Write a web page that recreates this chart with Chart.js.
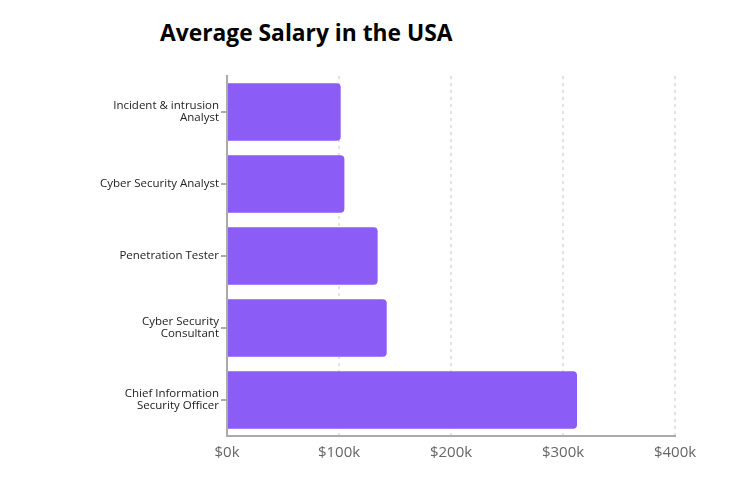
<!DOCTYPE html>
<html>
<head>
<meta charset="utf-8">
<script src="https://cdn.jsdelivr.net/npm/chart.js@4.4.0/dist/chart.umd.min.js"></script>
<style>
  body { margin: 0; background: #fff; }
  .wrap { position: relative; width: 751px; height: 494px; }
  .title {
    position: absolute; left: 160px; top: 17px;
    font-family: "Open Sans", "Noto Sans", sans-serif;
    font-weight: bold; font-size: 22.8px; color: #000; margin: 0;
  }
  canvas { position: absolute; left: 0; top: 0; }
</style>
</head>
<body>
<div class="wrap">
  <h1 class="title">Average Salary in the USA</h1>
  <canvas id="salary-chart" width="751" height="494"></canvas>
</div>
<script>
// job titles (multi-line labels as arrays)
var jobs = [
    ["Incident & intrusion", "Analyst"],
    "Cyber Security Analyst",
    "Penetration Tester",
    ["Cyber Security", "Consultant"],
    ["Chief Information", "Security Officer"]
]
// average salary in dollars
var salaries = [101500, 104800, 134500, 142600, 312500]
var x_ticks = [0, 100000, 200000, 300000, 400000]

var bar_color = "#8b5cf6"
var font_family = "'Open Sans', 'Noto Sans', sans-serif"

var ctx = document.getElementById("salary-chart")
var chart = new Chart(ctx, {
    type: "bar",
    data: {
        labels: jobs,
        datasets: [{
            data: salaries,
            backgroundColor: bar_color,
            borderRadius: 4,
            borderSkipped: "start",
            categoryPercentage: 0.8,
            barPercentage: 1.0
        }]
    },
    options: {
        indexAxis: "y",
        responsive: false,
        animation: false,
        layout: { padding: { top: 76, right: 76, bottom: 0, left: 0 } },
        plugins: {
            legend: { display: false },
            tooltip: { enabled: false },
            title: { display: false }
        },
        scales: {
            x: {
                min: 0,
                max: 400000,
                afterBuildTicks(scale) {
                    scale.ticks = x_ticks.map(v => ({ value: v }))
                },
                afterFit(scale) { scale.height = 58 },
                // dash here applies to the vertical grid lines
                border: { display: true, color: "#aaa", width: 2, dash: [3, 4] },
                grid: {
                    color: "#e2e2e2",
                    lineWidth: 2,
                    drawTicks: false
                },
                ticks: {
                    color: "#666",
                    padding: 8,
                    font: { family: font_family, size: 15 },
                    callback: v => "$" + (v / 1000) + "k"
                }
            },
            y: {
                afterFit(scale) { scale.width = 227 },
                border: { display: true, color: "#aaa", width: 2 },
                grid: {
                    offset: false,
                    drawOnChartArea: false,
                    tickColor: "#aaa",
                    tickLength: 6,
                    lineWidth: 2
                },
                ticks: {
                    color: "#222",
                    padding: 2,
                    font: { family: font_family, size: 11.5, lineHeight: 1.05 }
                }
            }
        }
    }
})
</script>
</body>
</html>
